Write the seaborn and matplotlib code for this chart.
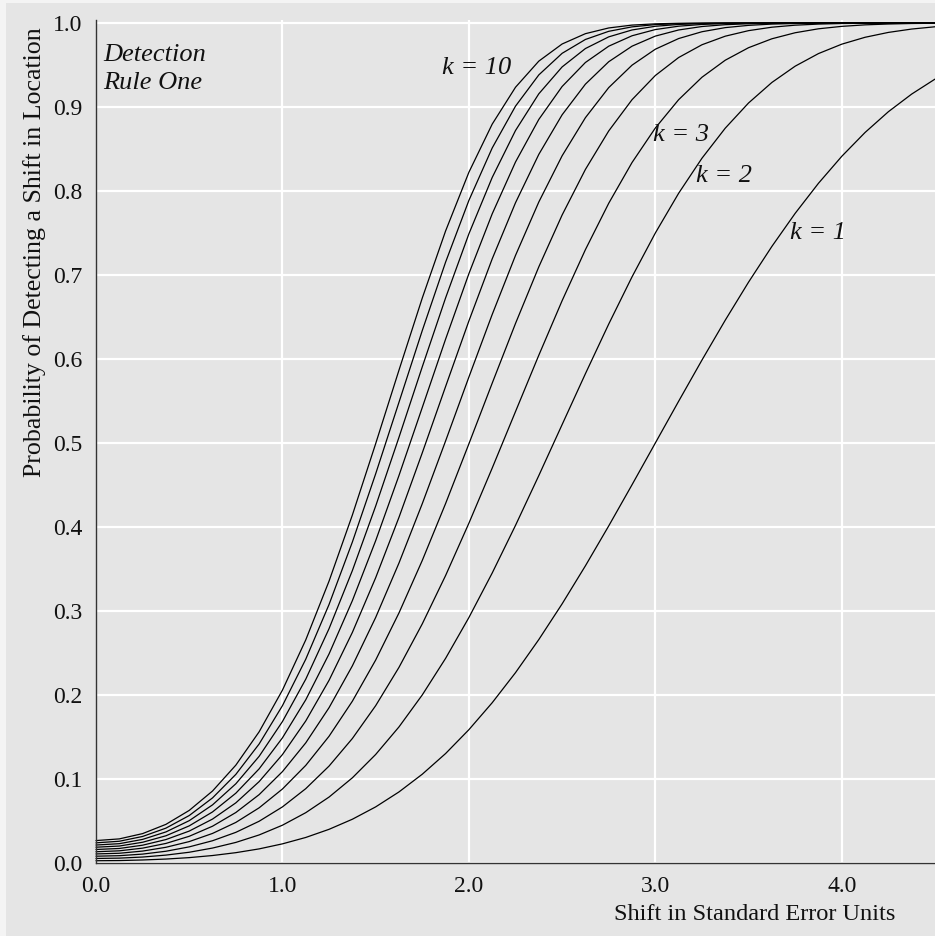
import matplotlib
matplotlib.use("Agg")
import matplotlib.pyplot as plt
import seaborn as sns
import pandas as pd
from matplotlib.patches import Rectangle

# Shift in standard error units (read every 0.125)
shift = [0.0, 0.125, 0.25, 0.375, 0.5, 0.625, 0.75, 0.875, 1.0, 1.125, 1.25, 1.375,
         1.5, 1.625, 1.75, 1.875, 2.0, 2.125, 2.25, 2.375, 2.5, 2.625, 2.75, 2.875,
         3.0, 3.125, 3.25, 3.375, 3.5, 3.625, 3.75, 3.875, 4.0, 4.125, 4.25, 4.375, 4.5]

# Probability of detecting a shift, one list per number of subgroups k
k1 = [0.0027, 0.0029, 0.0036, 0.0047, 0.0064, 0.0089, 0.0123, 0.0168, 0.0228, 0.0304,
      0.0401, 0.0521, 0.0668, 0.0846, 0.1057, 0.1303, 0.1587, 0.1908, 0.2266, 0.2660,
      0.3085, 0.3538, 0.4013, 0.4503, 0.5000, 0.5497, 0.5987, 0.6462, 0.6915, 0.7340,
      0.7734, 0.8092, 0.8413, 0.8697, 0.8944, 0.9154, 0.9332]
k2 = [0.0054, 0.0058, 0.0071, 0.0094, 0.0128, 0.0178, 0.0245, 0.0334, 0.0450, 0.0599,
      0.0785, 0.1014, 0.1292, 0.1620, 0.2001, 0.2436, 0.2922, 0.3452, 0.4019, 0.4612,
      0.5219, 0.5825, 0.6416, 0.6978, 0.7500, 0.7973, 0.8390, 0.8748, 0.9048, 0.9292,
      0.9486, 0.9636, 0.9748, 0.9830, 0.9888, 0.9928, 0.9955]
k3 = [0.0081, 0.0087, 0.0106, 0.0140, 0.0192, 0.0265, 0.0365, 0.0497, 0.0668, 0.0885,
      0.1154, 0.1482, 0.1873, 0.2329, 0.2847, 0.3422, 0.4045, 0.4701, 0.5374, 0.6045,
      0.6694, 0.7302, 0.7854, 0.8339, 0.8750, 0.9087, 0.9354, 0.9557, 0.9706, 0.9812,
      0.9884, 0.9931, 0.9960, 0.9978, 0.9988, 0.9994, 0.9997]
k4 = [0.0108, 0.0116, 0.0142, 0.0187, 0.0255, 0.0352, 0.0483, 0.0657, 0.0881, 0.1162,
      0.1509, 0.1926, 0.2416, 0.2977, 0.3602, 0.4279, 0.4990, 0.5712, 0.6423, 0.7097,
      0.7714, 0.8257, 0.8715, 0.9087, 0.9375, 0.9589, 0.9741, 0.9843, 0.9909, 0.9950,
      0.9974, 0.9987, 0.9994, 0.9997, 0.9999, 0.9999, 1.0000]
k5 = [0.0134, 0.0145, 0.0177, 0.0233, 0.0318, 0.0438, 0.0601, 0.0814, 0.1088, 0.1430,
      0.1849, 0.2347, 0.2923, 0.3571, 0.4278, 0.5024, 0.5785, 0.6530, 0.7233, 0.7869,
      0.8419, 0.8873, 0.9231, 0.9498, 0.9688, 0.9815, 0.9896, 0.9945, 0.9972, 0.9987,
      0.9994, 0.9997, 0.9999, 1.0000, 1.0000, 1.0000, 1.0000]
k6 = [0.0161, 0.0173, 0.0212, 0.0279, 0.0380, 0.0523, 0.0716, 0.0969, 0.1291, 0.1691,
      0.2175, 0.2745, 0.3396, 0.4115, 0.4883, 0.5672, 0.6453, 0.7192, 0.7860, 0.8436,
      0.8907, 0.9272, 0.9539, 0.9724, 0.9844, 0.9917, 0.9958, 0.9980, 0.9991, 0.9996,
      0.9999, 1.0000, 1.0000, 1.0000, 1.0000, 1.0000, 1.0000]
k7 = [0.0188, 0.0202, 0.0247, 0.0324, 0.0442, 0.0608, 0.0831, 0.1121, 0.1490, 0.1943,
      0.2489, 0.3123, 0.3837, 0.4613, 0.5423, 0.6236, 0.7016, 0.7728, 0.8345, 0.8852,
      0.9244, 0.9530, 0.9724, 0.9848, 0.9922, 0.9962, 0.9983, 0.9993, 0.9997, 0.9999,
      1.0000, 1.0000, 1.0000, 1.0000, 1.0000, 1.0000, 1.0000]
k8 = [0.0214, 0.0230, 0.0281, 0.0370, 0.0504, 0.0692, 0.0943, 0.1270, 0.1684, 0.2188,
      0.2790, 0.3481, 0.4249, 0.5068, 0.5907, 0.6727, 0.7490, 0.8161, 0.8720, 0.9157,
      0.9477, 0.9696, 0.9835, 0.9917, 0.9961, 0.9983, 0.9993, 0.9998, 0.9999, 1.0000,
      1.0000, 1.0000, 1.0000, 1.0000, 1.0000, 1.0000, 1.0000]
k9 = [0.0240, 0.0259, 0.0316, 0.0415, 0.0565, 0.0775, 0.1055, 0.1417, 0.1873, 0.2426,
      0.3078, 0.3821, 0.4633, 0.5485, 0.6339, 0.7153, 0.7888, 0.8512, 0.9010, 0.9382,
      0.9639, 0.9804, 0.9901, 0.9954, 0.9981, 0.9992, 0.9997, 0.9999, 1.0000, 1.0000,
      1.0000, 1.0000, 1.0000, 1.0000, 1.0000, 1.0000, 1.0000]
k10 = [0.0267, 0.0287, 0.0350, 0.0460, 0.0626, 0.0857, 0.1165, 0.1562, 0.2058, 0.2656,
       0.3356, 0.4142, 0.4992, 0.5867, 0.6726, 0.7524, 0.8223, 0.8796, 0.9235, 0.9546,
       0.9750, 0.9873, 0.9941, 0.9975, 0.9990, 0.9997, 0.9999, 1.0000, 1.0000, 1.0000,
       1.0000, 1.0000, 1.0000, 1.0000, 1.0000, 1.0000, 1.0000]

series = {1: k1, 2: k2, 3: k3, 4: k4, 5: k5, 6: k6, 7: k7, 8: k8, 9: k9, 10: k10}

rows = []
for k, vals in series.items():
    for x, y in zip(shift, vals):
        rows.append({"shift": x, "prob": y, "k": k})
df = pd.DataFrame(rows)

sns.set_style("white")
plt.rcParams["font.family"] = ["Liberation Serif", "DejaVu Serif"]

BG = "#e5e5e5"
INK = "#111111"
fig = plt.figure(figsize=(9.35, 9.36), dpi=100)
fig.patch.set_facecolor("#f4f4f4")
fig.patches.append(Rectangle((6 / 935, 0), 1, 1 - 3 / 936, transform=fig.transFigure,
                             facecolor=BG, edgecolor="none", zorder=-10))

ax = fig.add_axes([96 / 935, 1 - 863 / 936, 1 - 96 / 935, (863 - 23) / 936 * 1.003])
ax.set_facecolor(BG)

sns.lineplot(data=df, x="shift", y="prob", hue="k", units="k", estimator=None,
             palette=["black"] * 10, linewidth=0.9, legend=False, ax=ax)
for ln in ax.lines:
    ln.set_clip_on(False)

ax.set_xlim(0, 4.5)
ax.set_ylim(0, 1.003)
ax.set_xticks([0, 1, 2, 3, 4])
ax.set_xticklabels(["0.0", "1.0", "2.0", "3.0", "4.0"])
ax.set_yticks([i / 10 for i in range(11)])
ax.set_yticklabels([f"{i / 10:.1f}" for i in range(11)])
ax.tick_params(axis="both", length=0, labelsize=17, colors=INK)
ax.tick_params(axis="y", pad=10)
ax.tick_params(axis="x", pad=9)

ax.grid(True, color="white", linewidth=1.6)
ax.set_axisbelow(True)
for s in ["top", "right"]:
    ax.spines[s].set_visible(False)
for s in ["left", "bottom"]:
    ax.spines[s].set_color("#333333")
    ax.spines[s].set_linewidth(1.0)

ax.set_xlabel("")
ax.set_ylabel("")
fig.text(895 / 935, 1 - 914 / 936, "Shift in Standard Error Units", ha="right",
         va="center", fontsize=17.6, color=INK)
fig.text(35 / 935, 1 - 27 / 936, "Probability of Detecting a Shift in Location",
         rotation=90, ha="center", va="top", fontsize=18.6, color=INK)

ax.text(0.037, 0.975, "Detection\nRule One", ha="left", va="top", fontsize=19,
        style="italic", linespacing=1.35, color=INK)
lab_kw = dict(ha="left", va="center", fontsize=19, style="italic", color=INK)
ax.text(1.855, 0.946, "k = 10", **lab_kw)
ax.text(2.99, 0.867, "k = 3", **lab_kw)
ax.text(3.22, 0.818, "k = 2", **lab_kw)
ax.text(3.72, 0.750, "k = 1", **lab_kw)

fig.savefig("out.png", dpi=100, facecolor=fig.get_facecolor())
